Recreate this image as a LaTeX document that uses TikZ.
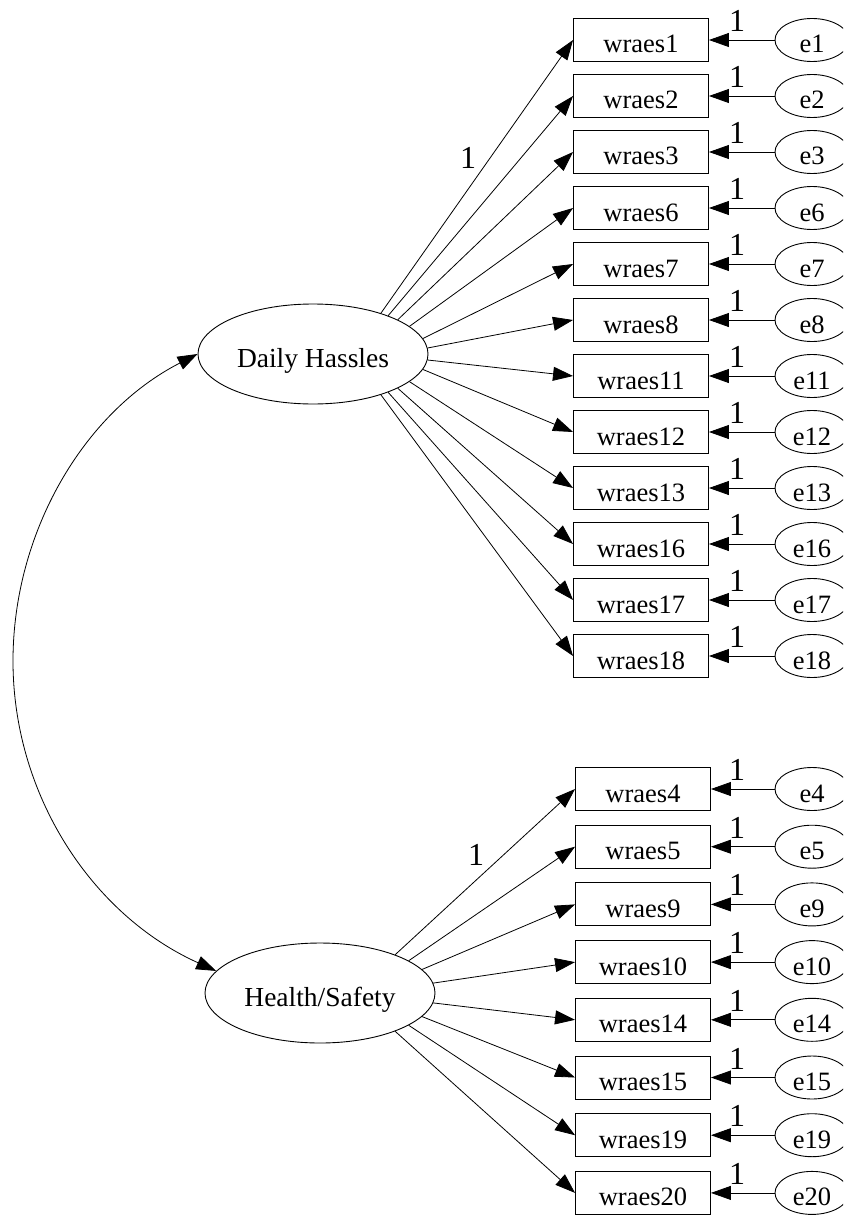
\documentclass[tikz,border=0pt]{standalone}
\usepackage{fontspec}
\setmainfont{Liberation Serif}
\usetikzlibrary{arrows.meta,shapes.geometric}

\begin{document}
\begin{tikzpicture}[x=1pt,y=-1pt,
  obs/.style={draw, line width=0.9pt, minimum width=135pt, minimum height=43pt,
    inner sep=0pt, text height=26pt, text depth=0pt,
    font=\fontsize{26.5}{30}\selectfont},
  errvar/.style={draw, ellipse, line width=0.9pt, minimum width=74pt, minimum height=43pt,
    inner sep=0pt, text height=26pt, text depth=0pt,
    font=\fontsize{26.5}{30}\selectfont},
  latent/.style={draw, ellipse, line width=0.9pt, minimum width=230pt, minimum height=100pt,
    inner sep=0pt, text height=26pt, text depth=0pt,
    font=\fontsize{27.5}{30}\selectfont},
  regpath/.style={line width=0.8pt, -{Triangle[length=20pt,width=14pt]}},
  covpath/.style={line width=0.8pt, {Triangle[length=20pt,width=14pt]}-{Triangle[length=20pt,width=14pt]}},
  weight/.style={font=\fontsize{32}{34}\selectfont, inner sep=0pt},
]
\useasboundingbox (0,0) rectangle (843,1217);
\clip (0,0) rectangle (843,1217);

% latent factors
\node[latent] (DH) at (313,354) {Daily Hassles};
\node[latent] (HS) at (320,993) {Health/Safety};

% Daily Hassles indicators with their error terms (\a = exit angle on the factor)
\foreach \n/\a [count=\i from 0] in {1/31,2/27,3/22,6/16,7/8,8/3.5,11/-3.5,12/-8,13/-16,16/-22,17/-27,18/-31} {
  \node[obs] (w\n) at (641,{40+56*\i}) {wraes\n};
  \node[errvar] (e\n) at (812,{40+56*\i}) {e\n};
  \draw[regpath] (e\n.west) -- (w\n.east);
  \node[weight] (f\n) at (737,{21+56*\i}) {1};
  \draw[regpath] (DH.\a) -- (w\n.west);
}

% Health/Safety indicators with their error terms
\foreach \n/\a [count=\i from 0] in {4/27,5/20,9/13,10/5,14/-5,15/-13,19/-20,20/-27} {
  \node[obs] (w\n) at (643,{789+57.7*\i}) {wraes\n};
  \node[errvar] (e\n) at (812,{789+57.7*\i}) {e\n};
  \draw[regpath] (e\n.west) -- (w\n.east);
  \node[weight] (f\n) at (737,{770+57.7*\i}) {1};
  \draw[regpath] (HS.\a) -- (w\n.west);
}

% fixed loadings
\node[weight] (fixDH) at (468,158) {1};
\node[weight] (fixHS) at (476,855) {1};

% factor covariance
\coordinate (cl) at (13,661);
\draw[covpath] (DH.west) .. controls (84,412) and (13,532) .. (cl)
  .. controls (13,795) and (92,915) .. (HS.168);
\end{tikzpicture}
\end{document}
